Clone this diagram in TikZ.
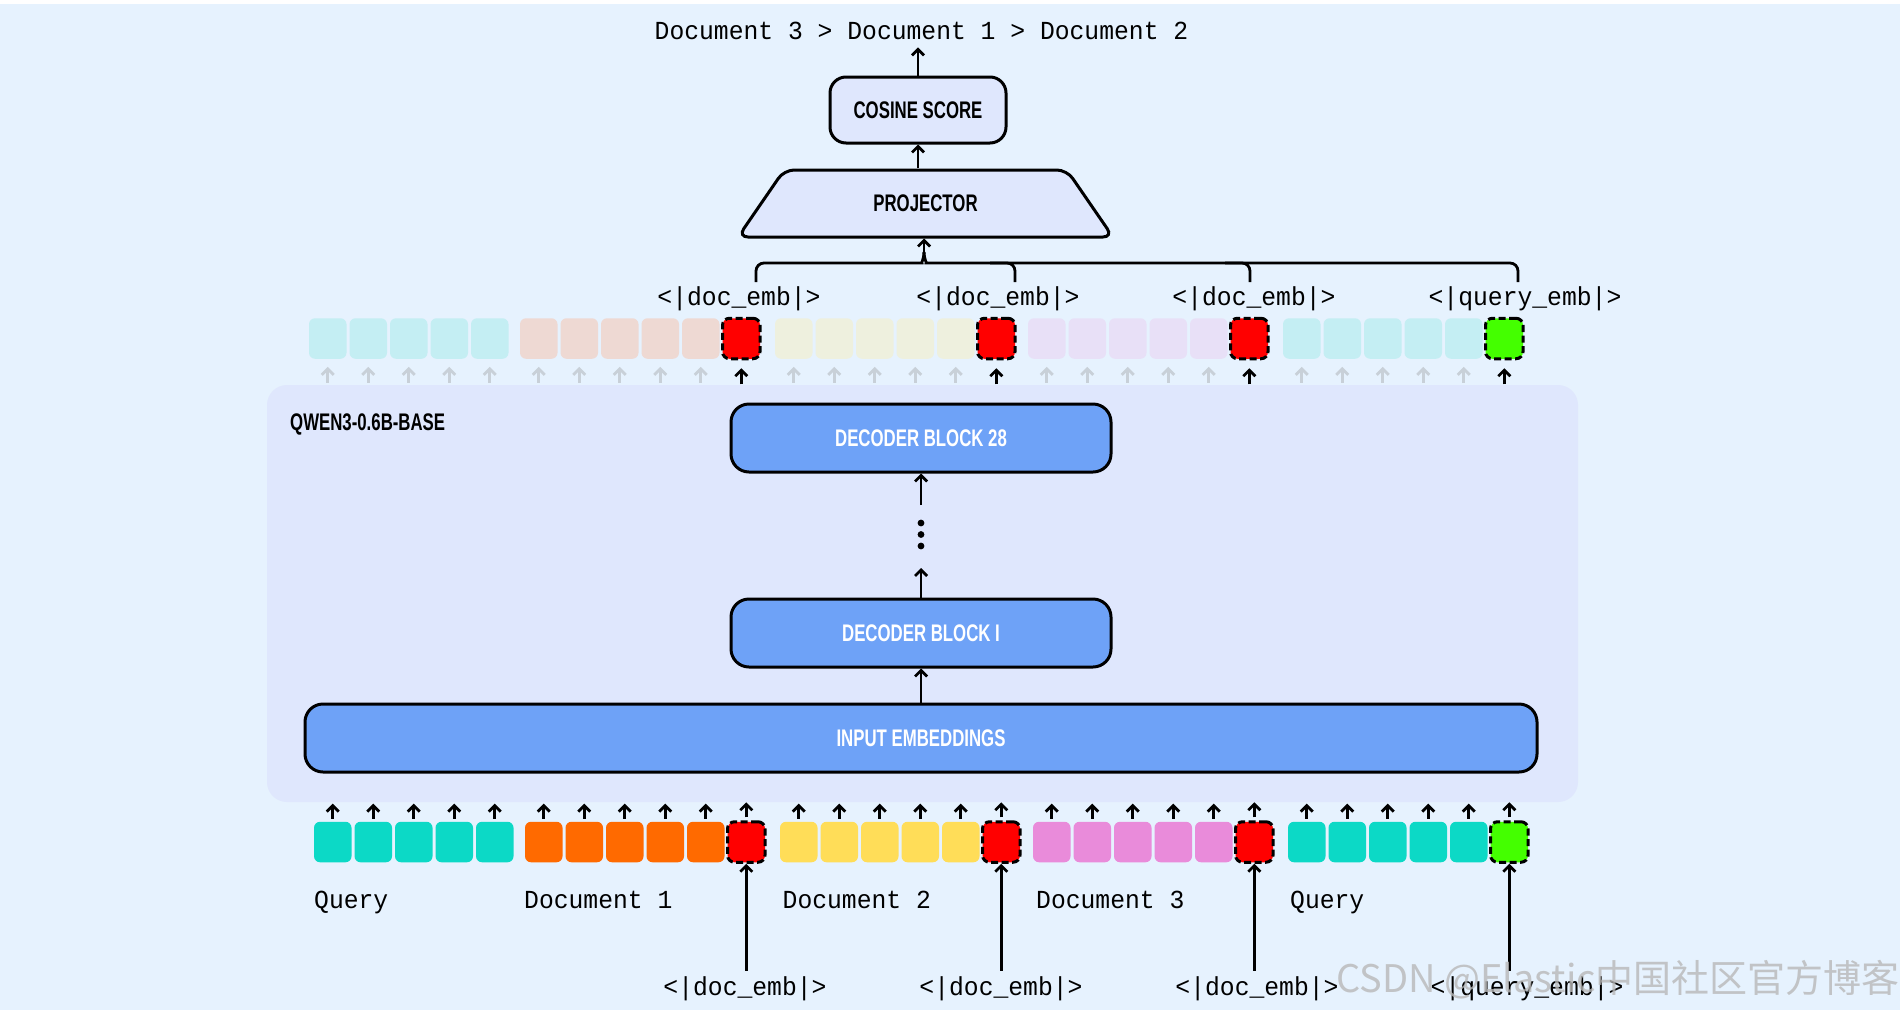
\documentclass[tikz,border=0pt]{standalone}
\usepackage{fontspec}
\usetikzlibrary{arrows.meta,calc,shapes.geometric}
\newfontfamily\monof{Liberation Mono}[FakeStretch=0.95]
\newfontfamily\dispf{Liberation Sans}[FakeStretch=0.70]
\newfontfamily\wmf{Noto Sans CJK SC}
\definecolor{bgc}{RGB}{230,242,254}
\definecolor{panelc}{RGB}{223,231,253}
\definecolor{decc}{RGB}{110,162,247}
\definecolor{cq}{RGB}{12,217,198}
\definecolor{co}{RGB}{255,106,0}
\definecolor{cy}{RGB}{255,221,88}
\definecolor{cp}{RGB}{233,139,218}
\definecolor{tred}{RGB}{255,0,0}
\definecolor{tgreen}{RGB}{68,255,0}
\definecolor{fq}{RGB}{196,238,243}
\definecolor{fo}{RGB}{238,217,211}
\definecolor{fy}{RGB}{238,240,222}
\definecolor{fp}{RGB}{232,224,247}
\definecolor{garrc}{RGB}{200,208,216}
\tikzset{
  mono/.style={font=\monof\fontsize{26}{26}\selectfont, inner sep=0pt},
  disp/.style={font=\dispf\bfseries\fontsize{24}{24}\selectfont, inner sep=0pt},
  box/.style={draw=black, line width=3pt, rounded corners=16pt, inner sep=0pt},
  arr/.style={line width=2.8pt, -{Straight Barb[length=6pt,width=12pt]}},
  garr/.style={arr, draw=garrc},
  brc/.style={line width=2.8pt, rounded corners=8pt},
  tok/.style={rounded corners=6pt, minimum width=37.5pt, minimum height=40.5pt, inner sep=0pt},
  spec/.style={tok, draw=black, line width=3pt, dash pattern=on 7pt off 3.5pt, rounded corners=7pt},
}
\begin{document}
\begin{tikzpicture}[x=1pt,y=-1pt]
\useasboundingbox (0,0) rectangle (1900,1010);
\fill[white] (0,0) rectangle (1900,1010);
\fill[bgc] (0,4) rectangle (1900,1010);

% model panel
\node[fill=panelc, rounded corners=20pt, minimum width=1311pt, minimum height=417pt, inner sep=0pt] (panel) at (922.5,593.5) {};
\node[disp, anchor=base west] (qlab) at (290,430) {QWEN3-0.6B-BASE};

% boxes
\node[box, fill=decc, minimum width=380pt, minimum height=68pt, rounded corners=18pt, disp, text=white] (dec28) at (921,438) {DECODER BLOCK 28};
\node[box, fill=decc, minimum width=380pt, minimum height=68pt, rounded corners=18pt, disp, text=white] (dec1) at (921,633) {DECODER BLOCK I};
\node[box, fill=decc, minimum width=1232pt, minimum height=68pt, rounded corners=18pt, disp, text=white] (inp) at (921,738) {INPUT EMBEDDINGS};
\node[box, fill=panelc, minimum width=176pt, minimum height=66pt, disp] (cos) at (918,110) {COSINE SCORE};
\node[trapezium, trapezium angle=45, trapezium stretches=true, draw=black, line width=3pt, rounded corners=10pt, fill=panelc, minimum width=375pt, minimum height=67pt, inner sep=0pt, disp] (proj) at (925.5,203.5) {PROJECTOR};

% title
\node[mono, anchor=base] (title) at (921.5,39) {Document 3 > Document 1 > Document 2};
\draw[arr, shorten >=8pt] (cos.north) -- (cos.north |- title.south);
\draw[arr] (proj.north -| cos.south) -- (cos.south);

% decoder chain
\draw[arr] (inp.north -| dec1.south) -- (dec1.south);
\coordinate (dA) at (921,568);
\draw[arr] (dec1.north) -- (dA);
\fill (921,523) circle (3.4pt);
\fill (921,534.5) circle (3.4pt);
\fill (921,546) circle (3.4pt);
\coordinate (dB) at (921,505);
\draw[arr] (dB) -- (dec28.south);

% token rows
\foreach \s/\c/\fc [count=\g] in {314/cq/fq, 525/co/fo, 780/cy/fy, 1033/cp/fp, 1288/cq/fq}{
  \foreach \i in {1,...,5}{
    \node[tok, fill=\c] (b-\g-\i) at ({\s+(\i-1)*40.5+18.75}, 842) {};
    \node[tok, fill=\fc] (t-\g-\i) at ({\s-5+(\i-1)*40.5+18.75}, 338.5) {};
    \draw[arr] ($(b-\g-\i.north)+(0,-3)$) -- ++(0,-15);
    \draw[garr] ($(t-\g-\i.south)+(0,24)$) -- ++(0,-16);
  }
}
% special tokens
\node[spec, fill=tred] (bs2) at (746.25,842) {};
\node[spec, fill=tred] (bs3) at (1001.25,842) {};
\node[spec, fill=tred] (bs4) at (1254.25,842) {};
\node[spec, fill=tgreen] (bs5) at (1509.25,842) {};
\node[spec, fill=tred] (ts2) at (741.25,338.5) {};
\node[spec, fill=tred] (ts3) at (996.25,338.5) {};
\node[spec, fill=tred] (ts4) at (1249.25,338.5) {};
\node[spec, fill=tgreen] (ts5) at (1504.25,338.5) {};
\foreach \k in {2,3,4,5}{
  \draw[arr] ($(bs\k.north)+(0,-3)$) -- ++(0,-15);
  \draw[arr] ($(ts\k.south)+(0,24)$) -- ++(0,-16);
}

% bottom labels
\node[mono, anchor=base west] (lq1) at (314,908) {Query};
\node[mono, anchor=base west] (ld1) at (524,908) {Document 1};
\node[mono, anchor=base west] (ld2) at (782.5,908) {Document 2};
\node[mono, anchor=base west] (ld3) at (1036,908) {Document 3};
\node[mono, anchor=base west] (lq2) at (1290,908) {Query};

\node[mono, anchor=base] (bl2) at (745,995) {<|doc\_emb|>};
\node[mono, anchor=base] (bl3) at (1001,995) {<|doc\_emb|>};
\node[mono, anchor=base] (bl4) at (1257,995) {<|doc\_emb|>};
\node[mono, anchor=base] (bl5) at (1527,995) {<|query\_emb|>};
\foreach \k in {2,3,4,5}{
  \draw[arr] ($(bl\k.north -| bs\k.south)+(0,-5)$) -- (bs\k.south);
}

% top labels
\node[mono, anchor=base] (tl2) at (739,305) {<|doc\_emb|>};
\node[mono, anchor=base] (tl3) at (998,305) {<|doc\_emb|>};
\node[mono, anchor=base] (tl4) at (1254,305) {<|doc\_emb|>};
\node[mono, anchor=base] (tl5) at (1525,305) {<|query\_emb|>};

% brace
\coordinate (h1) at (756,282);
\coordinate (h2) at (1015,282);
\coordinate (h3) at (1250,282);
\coordinate (h4) at (1518,282);
\coordinate (tip) at (924,252);
\draw[brc] (h1) |- (914,263) .. controls (921,263) and (924,259) .. (tip);
\draw[brc] (h4) |- (934,263) .. controls (927,263) and (924,259) .. (tip);
\draw[brc] (h2) |- (990,263);
\draw[brc] (h3) |- (1225,263);
\draw[arr] (tip) -- (tip |- proj.south);

% watermark
\node[anchor=base west, font=\wmf\fontsize{38}{38}\selectfont, text=black!28, opacity=0.8, inner sep=0pt] (wm) at (1336,992) {CSDN @Elastic中国社区官方博客};
\end{tikzpicture}
\end{document}
